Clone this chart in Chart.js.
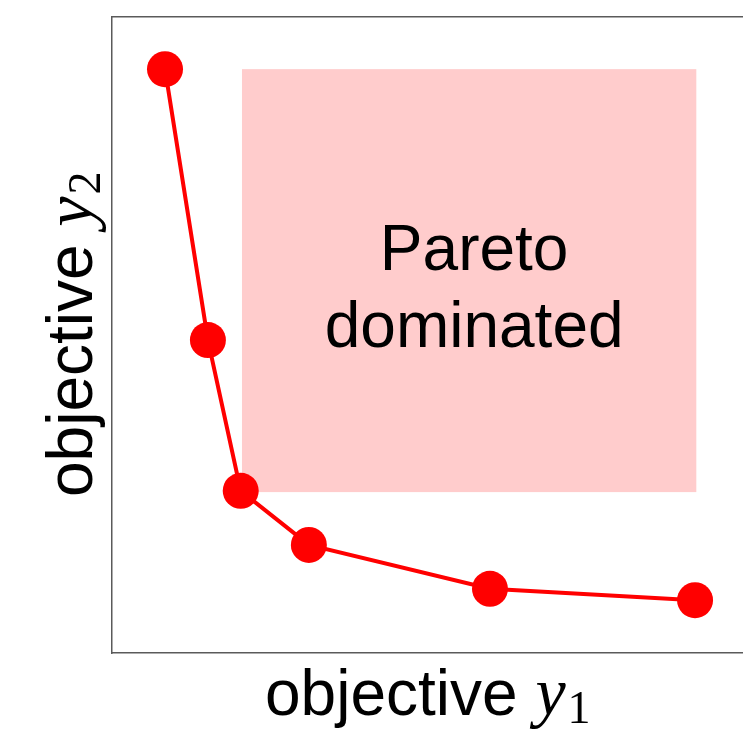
<!DOCTYPE html>
<html>
<head>
<meta charset="utf-8">
<script src="https://cdn.jsdelivr.net/npm/chart.js@4"></script>
<style>
  html, body { margin: 0; padding: 0; background: #fff; overflow: hidden; }
  #wrap { width: 743px; height: 736px; position: relative; }
</style>
</head>
<body>
<div id="wrap"><canvas id="pareto"></canvas></div>
<script>
// pareto front points (objective y1, objective y2)
const frontY1 = [0.84, 1.52, 2.04, 3.12, 5.99, 9.24]
const frontY2 = [9.18, 4.92, 2.55, 1.70, 1.01, 0.83]

// dominated region corners
const domY1 = [2.06, 9.26]
const domY2 = [2.53, 9.18]
const domLabel = ['Pareto', 'dominated']

const axisMin = 0
const axisMax = 10

// shaded box + its label, placed through the scales
const dominatedBox = {
  id: 'dominatedBox',
  beforeDatasetsDraw(chart) {
    const { ctx, scales } = chart
    const x0 = scales.x.getPixelForValue(domY1[0])
    const x1 = scales.x.getPixelForValue(domY1[1])
    const y0 = scales.y.getPixelForValue(domY2[1])
    const y1 = scales.y.getPixelForValue(domY2[0])
    ctx.save()
    ctx.fillStyle = '#ffcccc'
    ctx.fillRect(x0, y0, x1 - x0, y1 - y0)
    ctx.fillStyle = '#000'
    ctx.font = '64px "Liberation Sans", Arial, sans-serif'
    ctx.textAlign = 'center'
    ctx.textBaseline = 'alphabetic'
    const cx = (x0 + x1) / 2 + 5
    const cy = (y0 + y1) / 2
    ctx.fillText(domLabel[0], cx, cy - 11)
    ctx.fillText(domLabel[1], cx, cy + 66)
    ctx.restore()
  }
}

// axis titles with math style subscripts
function drawTitle(ctx, word, sub) {
  ctx.font = '64px "Liberation Sans", Arial, sans-serif'
  ctx.fillText(word + ' ', 0, 0)
  let w = ctx.measureText(word + ' ').width
  ctx.font = 'italic 68px "Liberation Serif", "DejaVu Serif", serif'
  ctx.fillText('y', w, 0)
  w += ctx.measureText('y').width + 2
  ctx.font = '46px "Liberation Serif", "DejaVu Serif", serif'
  ctx.fillText(sub, w, 8)
}

const axisTitles = {
  id: 'axisTitles',
  afterDraw(chart) {
    const { ctx, chartArea } = chart
    ctx.save()
    ctx.fillStyle = '#000'
    ctx.textAlign = 'left'
    ctx.textBaseline = 'alphabetic'
    ctx.save()
    ctx.translate(265, chartArea.bottom + 62)
    drawTitle(ctx, 'objective', '1')
    ctx.restore()
    ctx.save()
    ctx.translate(chartArea.left - 20, 497)
    ctx.rotate(-Math.PI / 2)
    drawTitle(ctx, 'objective', '2')
    ctx.restore()
    ctx.restore()
  }
}

const frame = { display: true, color: '#5a5a5a', width: 1.5 }

// no tick labels, so let the axes take no room at all
const flatX = (axis) => { axis.height = 0; axis.paddingLeft = 0; axis.paddingRight = 0 }
const flatY = (axis) => { axis.width = 0; axis.paddingTop = 0; axis.paddingBottom = 0 }

let ctxEl = document.getElementById('pareto').getContext('2d')
let chart = new Chart(ctxEl, {
  type: 'line',
  data: {
    datasets: [
      {
        data: frontY1.map((v, i) => ({ x: v, y: frontY2[i] })),
        borderColor: '#ff0000',
        backgroundColor: '#ff0000',
        borderWidth: 4,
        pointRadius: 18,
        pointHoverRadius: 18,
        pointBorderWidth: 0,
        tension: 0,
        clip: false,
      },
    ],
  },
  options: {
    responsive: true,
    maintainAspectRatio: false,
    animation: false,
    layout: { autoPadding: false, padding: { left: 112, top: 17, right: 0, bottom: 83 } },
    plugins: {
      legend: { display: false },
      tooltip: { enabled: false },
    },
    scales: {
      x: {
        type: 'linear', position: 'bottom', min: axisMin, max: axisMax,
        grid: { display: false }, ticks: { display: false }, border: frame,
        afterFit: flatX,
      },
      xTop: {
        type: 'linear', position: 'top', min: axisMin, max: axisMax,
        grid: { display: false }, ticks: { display: false }, border: frame,
        afterFit: flatX,
      },
      y: {
        type: 'linear', position: 'left', min: axisMin, max: axisMax,
        grid: { display: false }, ticks: { display: false }, border: frame,
        afterFit: flatY,
      },
    },
  },
  plugins: [dominatedBox, axisTitles],
})
</script>
</body>
</html>
